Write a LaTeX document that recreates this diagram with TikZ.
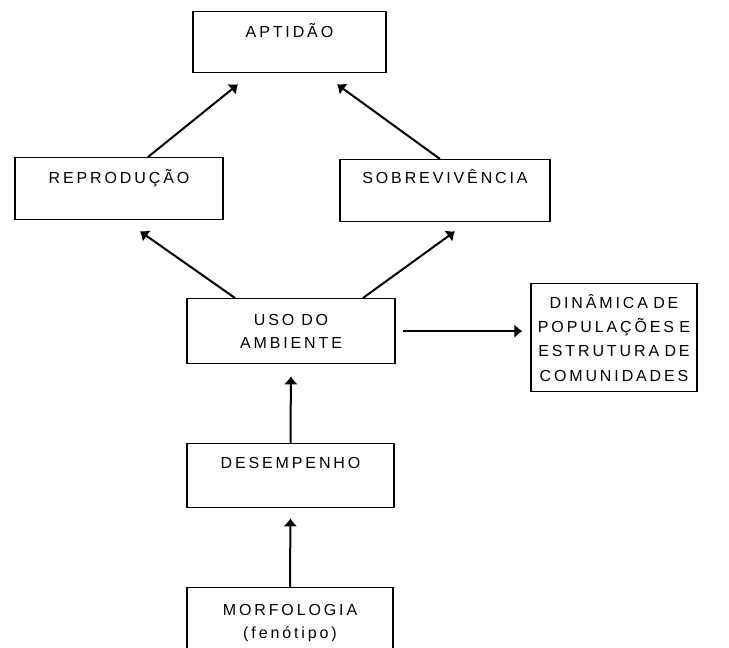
\documentclass[tikz,border=0pt]{standalone}
\usepackage{fontspec}
\newfontfamily\boxfont[LetterSpace=18]{Liberation Sans}
\usetikzlibrary{arrows.meta}

\begin{document}
\begin{tikzpicture}[x=1pt,y=-1pt,
    blk/.style={draw,line width=1.3pt,inner sep=0pt,anchor=north,align=center,
      font={\boxfont\fontsize{16}{23.5}\selectfont}},
    conn/.style={line width=2pt,-{Latex[length=8pt,width=14pt]}}]
    \clip (0,0) rectangle (729,648);
    % boxes
    \node[blk,text width=193pt,text height=26pt,text depth=35pt] (aptidao) at (289.5,11) {APTIDÃO};
    \node[blk,text width=208pt,text height=25.5pt,text depth=36.5pt] (reproducao) at (119,157) {REPRODUÇÃO};
    \node[blk,text width=210pt,text height=24pt,text depth=38pt] (sobrevivencia) at (445,159) {SOBREVIVÊNCIA};
    \node[blk,text width=208pt,text height=26.5pt,text depth=38.5pt] (uso) at (291,298) {USO\hspace{7pt}DO\\AMBIENTE};
    \node[blk,text width=166pt,text height=24.5pt,text depth=83.5pt,
      font={\boxfont\fontsize{16}{24.3}\selectfont}] (dinamica) at (614,283)
      {DINÂMICA DE\\POPULAÇÕES E\\ESTRUTURA DE\\COMUNIDADES};
    \node[blk,text width=207pt,text height=25pt,text depth=39pt] (desempenho) at (290.5,443) {DESEMPENHO};
    \node[blk,text width=206pt,text height=28pt,text depth=45pt,
      font={\boxfont\fontsize{16}{22.5}\selectfont}] (morfologia) at (290,587) {MORFOLOGIA\\(fenótipo)};
    % arrows
    \draw[conn] ([xshift=29pt]reproducao.north) -- ([shift={(-51.5,11)}]aptidao.south);
    \draw[conn] ([xshift=-5pt]sobrevivencia.north) -- ([shift={(47.5,11)}]aptidao.south);
    \draw[conn] ([xshift=-56pt]uso.north) -- ([shift={(21,11)}]reproducao.south);
    \draw[conn] ([xshift=72pt]uso.north) -- ([shift={(10,9)}]sobrevivencia.south);
    \draw[conn] ([xshift=7pt]uso.east) -- ([xshift=-8pt]uso.east -| dinamica.west);
    \draw[conn,shorten >=12pt] (desempenho.north) -- (uso.south);
    \draw[conn,shorten >=10pt] (morfologia.north) -- (desempenho.south);
\end{tikzpicture}
\end{document}
